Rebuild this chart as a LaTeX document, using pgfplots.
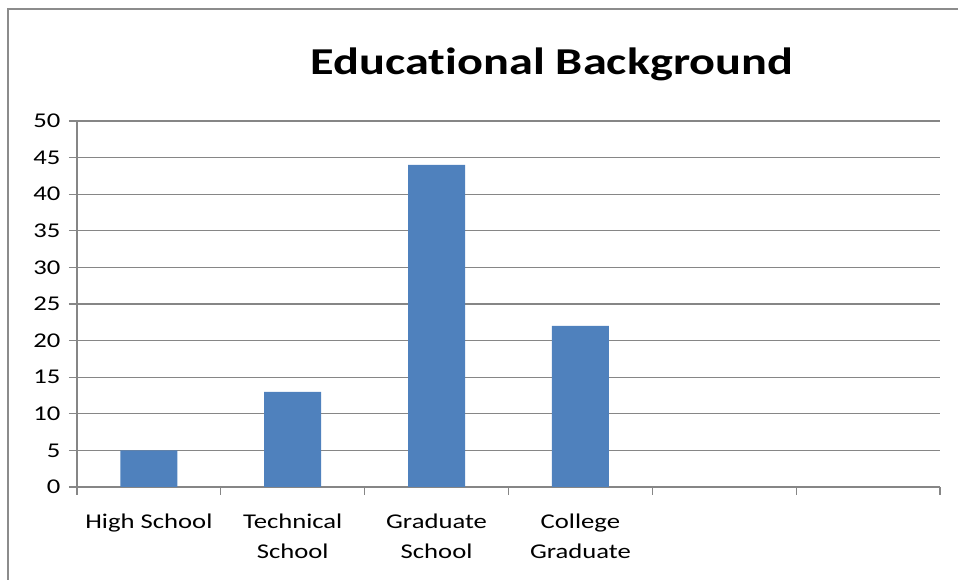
\documentclass[border=0pt]{standalone}
\usepackage{pgfplots}
\pgfplotsset{compat=1.18}
\usepackage{fontspec}
\setmainfont{Carlito}[FakeStretch=1.27,Ligatures=NoCommon]
\definecolor{barblue}{HTML}{4F81BD}
\definecolor{axisgray}{HTML}{868686}
\definecolor{framegray}{HTML}{8C8C8C}
\begin{document}
\begin{tikzpicture}[x=0.75pt,y=0.75pt]
\useasboundingbox (0,0) rectangle (958,580);
\draw[framegray,line width=1.6pt] (8,0) -- (8,571) -- (958,571);
\node[font=\fontsize{28.5}{32}\selectfont\bfseries] at (552,516) {Educational Background};
\begin{axis}[
  at={(57.75pt,69.75pt)}, anchor=origin,
  scale only axis,
  width=647.25pt, height=274.5pt,
  xmin=0, xmax=6, ymin=0, ymax=50,
  axis x line=bottom, axis y line=left,
  axis line style={-, axisgray, line width=0.8pt},
  ytick={0,5,...,50},
  ymajorgrids,
  grid style={axisgray, line width=0.8pt},
  tick align=outside,
  xtick={0.5,1.5,2.5,3.5},
  xticklabels={High School,{Technical\\School},{Graduate\\School},{College\\Graduate}},
  major x tick style={draw=none},
  minor xtick={0,1,2,3,4,5,6},
  minor tick length=6pt,
  major tick length=6pt,
  y tick style={axisgray, line width=0.8pt},
  minor x tick style={axisgray, line width=0.8pt},
  xticklabel style={align=center, font=\fontsize{15.75}{22.5}\selectfont, yshift=-11pt},
  yticklabel style={font=\fontsize{15.75}{18}\selectfont, xshift=-3pt},
  /pgf/number format/assume math mode=true,
  tick label style={black},
  ybar, bar width=42.75pt,
  clip=false,
]
\addplot[fill=barblue, draw=none, bar shift=0pt] coordinates {(0.5,5) (1.5,13) (2.5,44) (3.5,22)};
\end{axis}
\end{tikzpicture}
\end{document}
